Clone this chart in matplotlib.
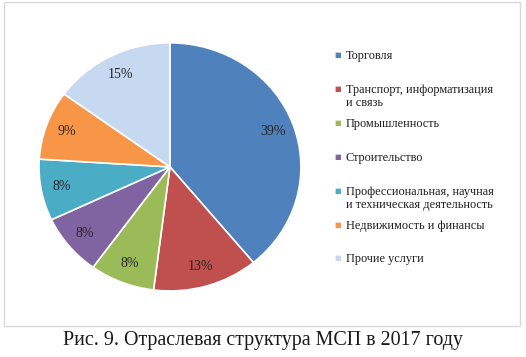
import matplotlib.pyplot as plt
from matplotlib.patches import Rectangle

sectors = ['Торговля', 'Транспорт, информатизация\nи связь', 'Промышленность',
           'Строительство', 'Профессиональная, научная\nи техническая деятельность',
           'Недвижимость и финансы', 'Прочие услуги']
shares = [39, 13, 8, 8, 8, 9, 15]
colors = ['#4F81BD', '#C0504D', '#9BBB59', '#8064A2', '#4BACC6', '#F79646', '#C6D9F1']

plt.rcParams['font.family'] = ['Liberation Serif', 'DejaVu Serif']

fig = plt.figure(figsize=(5.26, 3.57), dpi=100)

# grey frame around the chart
fig.patches.append(Rectangle((4 / 526, 1 - 326 / 357), 516 / 526, 324 / 357,
                             transform=fig.transFigure, fill=False,
                             edgecolor='#D9D9D9', linewidth=1))

ax = fig.add_axes([0.0741, 0.185, 0.498, 0.695])
wedges, texts, autotexts = ax.pie(shares, colors=colors, startangle=90, counterclock=False,
                                  autopct='%d%%', pctdistance=0.84,
                                  wedgeprops=dict(edgecolor='white', linewidth=1.2),
                                  textprops=dict(color='#262626', fontsize=10))
ax.set_aspect('auto')
ax.set_xlim(-1, 1)
ax.set_ylim(-1, 1)

# legend, drawn by hand to keep the even slots
y0 = 1 - 55.5 / 357
step = 33.8 / 357
for i, (lab, c) in enumerate(zip(sectors, colors)):
    y = y0 - i * step
    fig.text(338 / 526, y, '\u25A0', color=c, fontsize=5, ha='center', va='center',
             family='DejaVu Sans')
    fig.text(346 / 526, y + 5 / 357, lab, fontsize=8.8, color='#1f1f1f', ha='left', va='top',
             linespacing=1.1)

fig.text(0.5, 1 - 340 / 357, 'Рис. 9. Отраслевая структура МСП в 2017 году',
         fontsize=14.4, ha='center', va='center', color='#1a1a1a')

fig.savefig('out.png', dpi=100)
